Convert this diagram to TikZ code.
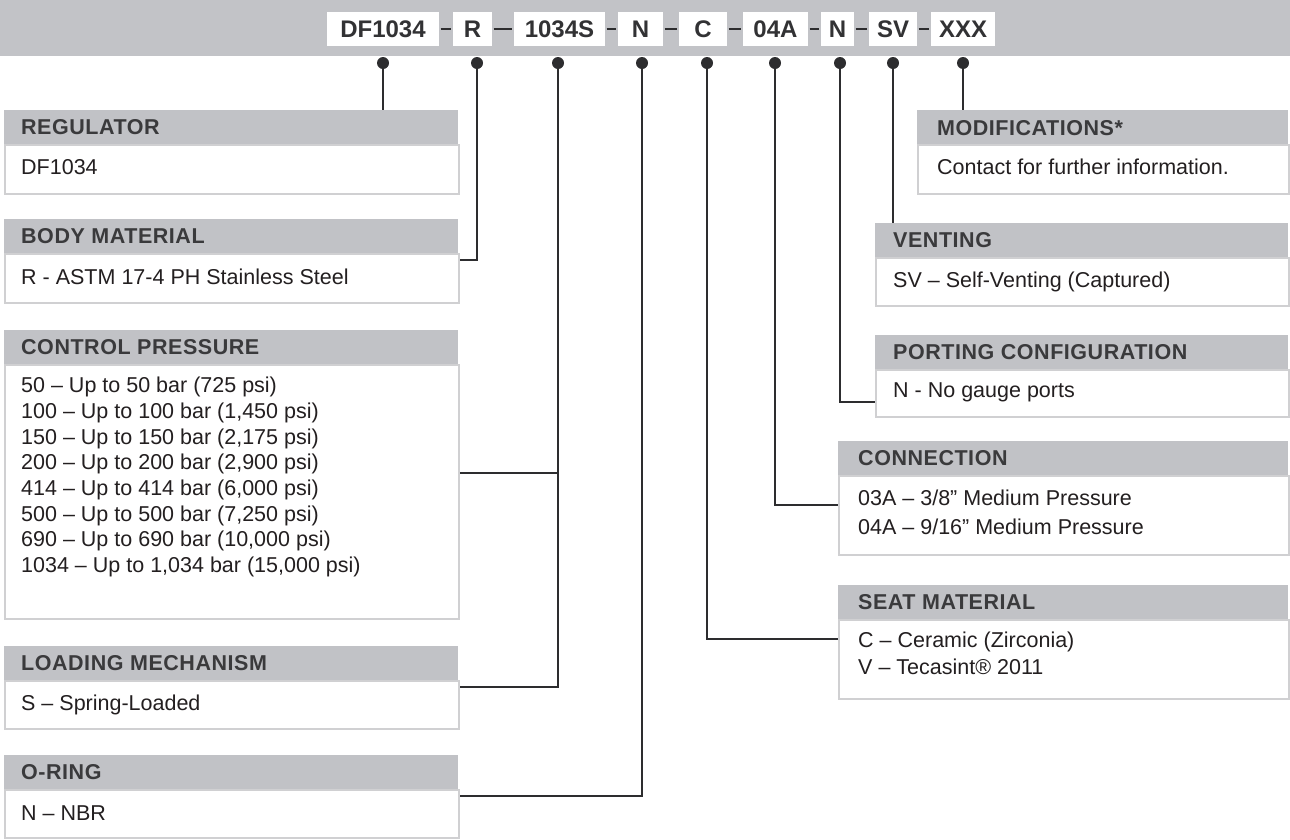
\documentclass[tikz,border=0pt]{standalone}
\usepackage{fontspec}
\setmainfont{Liberation Sans}
\newfontfamily\hdrfont{Liberation Sans}[LetterSpace=2.5]
\definecolor{bargray}{RGB}{194,195,199}
\definecolor{hdrgray}{RGB}{193,194,198}
\definecolor{edgegray}{RGB}{208,208,210}
\definecolor{ink}{RGB}{35,31,32}
\definecolor{hink}{RGB}{58,58,60}
\definecolor{codeink}{RGB}{50,50,52}
\definecolor{lineink}{RGB}{45,45,47}
\begin{document}
\begin{tikzpicture}[x=1pt,y=-1pt,
  codebox/.style={fill=white, inner xsep=0pt, inner ysep=8.4pt, text height=17.2pt, text depth=0pt,
    font=\fontsize{24}{28}\selectfont\bfseries, text=codeink},
  codelink/.style={line width=2.6pt, draw=lineink, shorten <=1.5pt, shorten >=1.5pt},
  knob/.style={circle, fill=lineink, inner sep=0pt, minimum size=12pt},
  hbox/.style={fill=hdrgray, minimum height=34pt, inner sep=0pt, anchor=north west},
  bbox/.style={fill=white, draw=edgegray, line width=1.5pt, inner sep=0pt, anchor=north west},
  htxt/.style={anchor=base west, inner sep=0pt, font=\hdrfont\fontsize{21.5}{25.5}\selectfont\bfseries, text=hink},
  btxt/.style={anchor=base west, inner sep=0pt, font=\fontsize{21.5}{25.5}\selectfont, text=ink},
  conn/.style={draw=lineink, line width=1.4pt},
]
\useasboundingbox (0,0) rectangle (1290,839);
\fill[bargray] (0,0) rectangle (1290,56);

% code boxes
\node[codebox, minimum width=112pt] (c1) at (383,29) {DF1034};
\node[codebox, minimum width=39pt] (c2) at (472.5,29) {R};
\node[codebox, minimum width=91pt] (c3) at (559.5,29) {1034S};
\node[codebox, minimum width=45pt] (c4) at (640.5,29) {N};
\node[codebox, minimum width=48pt] (c5) at (703,29) {C};
\node[codebox, minimum width=65pt] (c6) at (775.5,29) {04A};
\node[codebox, minimum width=33pt] (c7) at (837.5,29) {N};
\node[codebox, minimum width=48pt] (c8) at (893,29) {SV};
\node[codebox, minimum width=64pt] (c9) at (963,29) {XXX};
\draw[codelink] (c1.east) -- (c2.west);
\draw[codelink] (c2.east) -- (c3.west);
\draw[codelink] (c3.east) -- (c4.west);
\draw[codelink] (c4.east) -- (c5.west);
\draw[codelink] (c5.east) -- (c6.west);
\draw[codelink] (c6.east) -- (c7.west);
\draw[codelink] (c7.east) -- (c8.west);
\draw[codelink] (c8.east) -- (c9.west);

% left boxes
\node[bbox, minimum width=454pt, minimum height=49pt] (regB) at (4,144) {};
\node[hbox, minimum width=454pt] (regH) at (4,110) {};
\node[bbox, minimum width=454pt, minimum height=49pt] (bodyB) at (4,253) {};
\node[hbox, minimum width=454pt] (bodyH) at (4,219) {};
\node[bbox, minimum width=454pt, minimum height=254pt] (ctrlB) at (4,364) {};
\node[hbox, minimum width=454pt] (ctrlH) at (4,330) {};
\node[bbox, minimum width=454pt, minimum height=48pt] (loadB) at (4,680) {};
\node[hbox, minimum width=454pt] (loadH) at (4,646) {};
\node[bbox, minimum width=454pt, minimum height=48pt] (oringB) at (4,789) {};
\node[hbox, minimum width=454pt] (oringH) at (4,755) {};

% right boxes
\node[bbox, minimum width=371pt, minimum height=49pt] (modB) at (917,144) {};
\node[hbox, minimum width=371pt] (modH) at (917,110) {};
\node[bbox, minimum width=413pt, minimum height=48pt] (ventB) at (875,257) {};
\node[hbox, minimum width=413pt] (ventH) at (875,223) {};
\node[bbox, minimum width=413pt, minimum height=47pt] (portB) at (875,369) {};
\node[hbox, minimum width=413pt] (portH) at (875,335) {};
\node[bbox, minimum width=450pt, minimum height=79pt] (connB) at (838,475) {};
\node[hbox, minimum width=450pt] (connH) at (838,441) {};
\node[bbox, minimum width=450pt, minimum height=79pt] (seatB) at (838,619) {};
\node[hbox, minimum width=450pt] (seatH) at (838,585) {};

% left texts
\node[htxt] (t1h) at (21,134.7) {REGULATOR};
\node[btxt] (t1b) at (21,174.7) {DF1034};
\node[htxt] (t2h) at (21,243.7) {BODY MATERIAL};
\node[btxt] (t2b) at (21,284.7) {R - ASTM 17-4 PH Stainless Steel};
\node[htxt] (t3h) at (21,354.7) {CONTROL PRESSURE};
\node[btxt] (t3a) at (21,392.7) {50 – Up to 50 bar (725 psi)};
\node[btxt] (t3b) at (21,418.4) {100 – Up to 100 bar (1,450 psi)};
\node[btxt] (t3c) at (21,444.1) {150 – Up to 150 bar (2,175 psi)};
\node[btxt] (t3d) at (21,469.8) {200 – Up to 200 bar (2,900 psi)};
\node[btxt] (t3e) at (21,495.5) {414 – Up to 414 bar (6,000 psi)};
\node[btxt] (t3f) at (21,521.2) {500 – Up to 500 bar (7,250 psi)};
\node[btxt] (t3g) at (21,546.9) {690 – Up to 690 bar (10,000 psi)};
\node[btxt] (t3i) at (21,572.6) {1034 – Up to 1,034 bar (15,000 psi)};
\node[htxt] (t4h) at (21,670.7) {LOADING MECHANISM};
\node[btxt] (t4b) at (21,710.7) {S – Spring-Loaded};
\node[htxt] (t5h) at (21,779.7) {O-RING};
\node[btxt] (t5b) at (21,820.7) {N – NBR};

% right texts
\node[htxt] (t6h) at (937,135.2) {MODIFICATIONS*};
\node[btxt] (t6b) at (937,174.7) {Contact for further information.};
\node[htxt] (t7h) at (893,247.7) {VENTING};
\node[btxt] (t7b) at (893,287.7) {SV – Self-Venting (Captured)};
\node[htxt] (t8h) at (893,359.7) {PORTING CONFIGURATION};
\node[btxt] (t8b) at (893,397.7) {N - No gauge ports};
\node[htxt] (t9h) at (858,465.7) {CONNECTION};
\node[btxt] (t9a) at (858,505.7) {03A – 3/8” Medium Pressure};
\node[btxt] (t9b) at (858,534.7) {04A – 9/16” Medium Pressure};
\node[htxt] (t10h) at (858,609.7) {SEAT MATERIAL};
\node[btxt] (t10a) at (858,647.7) {C – Ceramic (Zirconia)};
\node[btxt] (t10b) at (858,674.7) {V – Tecasint® 2011};

% knob positions
\coordinate (d1) at (383,63);
\coordinate (d2) at (477,63);
\coordinate (d3) at (558,63);
\coordinate (d4) at (642,63);
\coordinate (d5) at (707,63);
\coordinate (d6) at (775,63);
\coordinate (d7) at (840,63);
\coordinate (d8) at (893,63);
\coordinate (d9) at (963,63);

% connectors
\draw[conn] (d1) -- (d1 |- regH.north);
\draw[conn] (d2) |- (bodyB.east |- 0,260);
\draw[conn] (d3) |- (loadB.east |- 0,687);
\draw[conn] (d3 |- 0,473) -- (ctrlB.east |- 0,473);
\draw[conn] (d4) |- (oringB.east |- 0,796);
\draw[conn] (d5) |- (seatB.west |- 0,639);
\draw[conn] (d6) |- (connB.west |- 0,505);
\draw[conn] (d7) |- (portB.west |- 0,402);
\draw[conn] (d8) -- (d8 |- ventH.north);
\draw[conn] (d9) -- (d9 |- modH.north);

\foreach \k in {1,...,9} \node[knob] (k\k) at (d\k) {};
\end{tikzpicture}
\end{document}
